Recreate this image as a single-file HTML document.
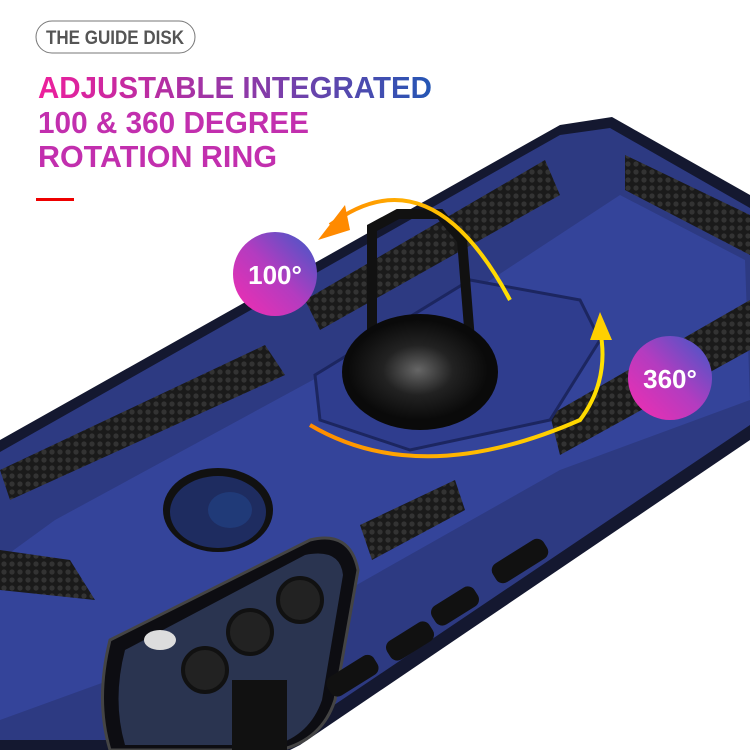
<!DOCTYPE html>
<html><head><meta charset="utf-8"><style>
html,body{margin:0;padding:0;background:#fff;width:750px;height:750px;overflow:hidden}
</style></head><body>
<svg width="750" height="750" viewBox="0 0 750 750" xmlns="http://www.w3.org/2000/svg" style="position:absolute;left:0;top:0">
<defs>
<linearGradient id="tg" x1="0" x2="1" y1="0" y2="0"><stop offset="0" stop-color="#ee1f9c"/><stop offset="0.55" stop-color="#8a3aa8"/><stop offset="1" stop-color="#2456b4"/></linearGradient>
<linearGradient id="cg" x1="0" y1="1" x2="1" y2="0"><stop offset="0" stop-color="#f52cb0"/><stop offset="0.5" stop-color="#b33cc0"/><stop offset="1" stop-color="#3a5ac8"/></linearGradient>
<linearGradient id="ag" x1="0" x2="1"><stop offset="0" stop-color="#ff8a00"/><stop offset="1" stop-color="#ffe000"/></linearGradient>
<radialGradient id="dg" cx="0.5" cy="0.5" r="0.5"><stop offset="0" stop-color="#666"/><stop offset="0.5" stop-color="#222"/><stop offset="1" stop-color="#0a0a0a"/></radialGradient>
<pattern id="hc" width="8" height="8" patternUnits="userSpaceOnUse"><rect width="8" height="8" fill="#1a1a1a"/><circle cx="4" cy="4" r="2.6" fill="#333"/></pattern>
</defs>
<!-- header -->
<rect x="36" y="21" width="159" height="32" rx="16" fill="#fff" stroke="#777" stroke-width="1"/>
<text x="46" y="44" font-family="Liberation Sans" font-weight="bold" font-size="19" fill="#555" textLength="138" lengthAdjust="spacingAndGlyphs">THE GUIDE DISK</text>
<text x="38" y="98" font-family="Liberation Sans" font-weight="bold" font-size="31" fill="url(#tg)" textLength="394" lengthAdjust="spacingAndGlyphs">ADJUSTABLE INTEGRATED</text>
<text x="38" y="133" font-family="Liberation Sans" font-weight="bold" font-size="31" fill="#c22fae" textLength="271" lengthAdjust="spacingAndGlyphs">100 &amp; 360 DEGREE</text>
<text x="38" y="167" font-family="Liberation Sans" font-weight="bold" font-size="31" fill="#c22fae" textLength="239" lengthAdjust="spacingAndGlyphs">ROTATION RING</text>
<rect x="36" y="198" width="38" height="3" fill="#e00"/>
<!-- case -->
<polygon points="0,440 560,125 612,117 750,195 750,440 300,745 290,750 0,750" fill="#141830"/>
<polygon points="0,452 560,135 610,128 750,208 750,425 300,728 285,740 0,740" fill="#2d3a82"/>
<polygon points="55,520 460,300 620,195 745,260 750,400 560,470 330,600 0,720 0,560" fill="#34449a"/>
<!-- honeycomb strips -->
<polygon points="0,470 265,345 285,375 10,500" fill="url(#hc)"/>
<polygon points="305,300 545,160 560,195 320,330" fill="url(#hc)"/>
<polygon points="625,155 750,215 750,255 625,190" fill="url(#hc)"/>
<polygon points="550,415 750,300 750,350 560,455" fill="url(#hc)"/>
<polygon points="360,525 455,480 465,510 372,560" fill="url(#hc)"/>
<polygon points="0,550 70,560 95,600 0,590" fill="url(#hc)"/>
<!-- bracket frame -->
<polygon points="315,375 470,280 580,300 600,340 550,420 410,450 320,420" fill="#2f3d8e" stroke="#1c2660" stroke-width="3"/>
<!-- fingerprint hole -->
<ellipse cx="218" cy="510" rx="55" ry="42" fill="#111" />
<ellipse cx="218" cy="512" rx="48" ry="36" fill="#1e2c60"/>
<ellipse cx="230" cy="510" rx="22" ry="18" fill="#203a78"/>
<!-- camera module -->
<path d="M110,640 L310,540 Q350,530 358,570 L335,700 Q322,740 280,750 L110,750 Q95,700 110,640 Z" fill="#0d0d12" stroke="#444" stroke-width="3"/>
<path d="M125,650 L305,555 Q340,548 343,575 L322,700 Q310,735 275,745 L125,745 Q112,700 125,650 Z" fill="#2a3450"/>
<circle cx="300" cy="600" r="22" fill="#222" stroke="#111" stroke-width="4"/>
<circle cx="250" cy="632" r="22" fill="#222" stroke="#111" stroke-width="4"/>
<circle cx="205" cy="670" r="22" fill="#222" stroke="#111" stroke-width="4"/>
<ellipse cx="160" cy="640" rx="16" ry="10" fill="#ddd"/>
<rect x="232" y="680" width="55" height="70" fill="#111"/>
<!-- side buttons -->
<rect x="490" y="550" width="60" height="22" rx="8" fill="#111" transform="rotate(-32 520 561)"/>
<rect x="430" y="595" width="50" height="22" rx="8" fill="#111" transform="rotate(-32 455 606)"/>
<rect x="385" y="630" width="50" height="22" rx="8" fill="#111" transform="rotate(-32 410 641)"/>
<rect x="325" y="665" width="55" height="22" rx="8" fill="#111" transform="rotate(-32 352 676)"/>
<!-- ring -->
<path d="M372,360 L372,228 L398,214 L440,214 L462,240 L470,340" fill="none" stroke="#111" stroke-width="10"/>
<ellipse cx="420" cy="372" rx="78" ry="58" fill="#0a0a0a"/>
<ellipse cx="418" cy="370" rx="70" ry="50" fill="url(#dg)"/>
<!-- arrows -->
<path d="M330,225 Q430,150 510,300" fill="none" stroke="url(#ag)" stroke-width="4"/>
<polygon points="318,240 345,205 350,230" fill="#ff8a00"/>
<path d="M310,425 Q420,490 580,420 Q610,380 600,330" fill="none" stroke="url(#ag)" stroke-width="4"/>
<polygon points="600,312 590,340 612,340" fill="#ffd000"/>
<!-- badges -->
<circle cx="275" cy="274" r="42" fill="url(#cg)"/>
<text x="275" y="284" text-anchor="middle" font-family="Liberation Sans" font-weight="bold" font-size="26" fill="#fff">100°</text>
<circle cx="670" cy="378" r="42" fill="url(#cg)"/>
<text x="670" y="388" text-anchor="middle" font-family="Liberation Sans" font-weight="bold" font-size="26" fill="#fff">360°</text>
</svg>
</body></html>
